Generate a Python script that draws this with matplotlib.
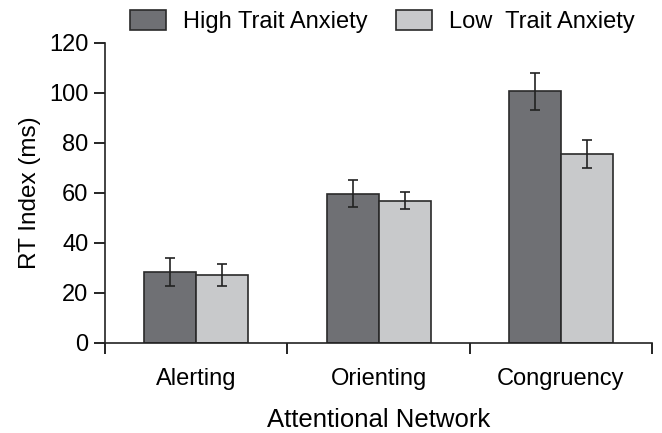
import numpy as np
import matplotlib.pyplot as plt

plt.rcParams['font.family'] = ['Liberation Sans', 'DejaVu Sans']

categories = ["Alerting", "Orienting", "Congruency"]
high_vals = [28.4, 59.6, 100.7]
high_err = [5.6, 5.4, 7.4]
low_vals = [27.2, 56.8, 75.6]
low_err = [4.4, 3.4, 5.6]

fig = plt.figure(figsize=(6.62, 4.33), dpi=100)
ax = fig.add_axes([0.1586, 0.2079, 0.8264, 0.6928])

x = np.arange(len(categories))
w = 0.285
ax.bar(x - w / 2, high_vals, w, color="#6f7074", edgecolor="#2a2a2a", linewidth=1.2,
       yerr=high_err, capsize=3.5, error_kw=dict(elinewidth=1.2, capthick=1.2, ecolor="#222222"),
       label="High Trait Anxiety")
ax.bar(x + w / 2, low_vals, w, color="#c8c9cb", edgecolor="#2a2a2a", linewidth=1.2,
       yerr=low_err, capsize=3.5, error_kw=dict(elinewidth=1.2, capthick=1.2, ecolor="#222222"),
       label="Low  Trait Anxiety")

ax.set_xlim(-0.5, 2.5)
ax.set_ylim(0, 120)
ax.set_yticks(range(0, 121, 20))
ax.set_xticks([-0.5, 0.5, 1.5, 2.5])
ax.set_xticklabels([])
ax.set_xticks(x, minor=True)
ax.set_xticklabels(categories, minor=True, fontsize=17)
ax.tick_params(axis="x", which="minor", length=0, pad=18)
ax.tick_params(axis="x", which="major", length=8, direction="out", width=1.2)
ax.tick_params(axis="y", length=8, direction="out", width=1.2, labelsize=17, pad=4)

for s in ["top", "right"]:
    ax.spines[s].set_visible(False)
for s in ["left", "bottom"]:
    ax.spines[s].set_linewidth(1.2)
    ax.spines[s].set_color("#222222")

ax.set_ylabel("RT Index (ms)", fontsize=17.5, labelpad=6)
ax.set_xlabel("Attentional Network", fontsize=18.5, labelpad=13)

fig.legend(loc="upper center", bbox_to_anchor=(0.578, 1.025), ncol=2, frameon=False,
           fontsize=17, handlelength=1.5, handleheight=0.9, columnspacing=1.2, handletextpad=0.75)

fig.savefig("out.png", dpi=100)
